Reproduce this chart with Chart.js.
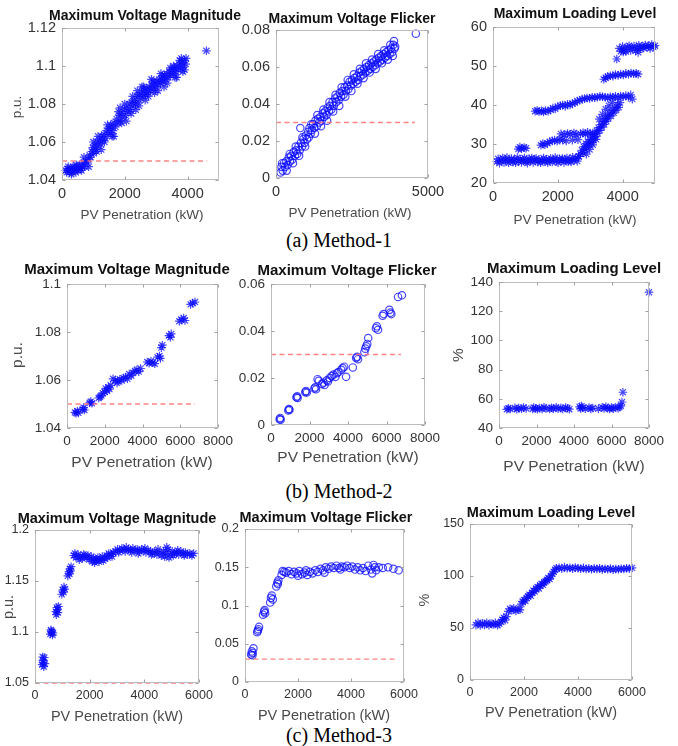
<!DOCTYPE html>
<html>
<head>
<meta charset="utf-8">
<script src="https://cdn.jsdelivr.net/npm/chart.js@4.4.1/dist/chart.umd.min.js"></script>
<style>
  html, body { margin: 0; padding: 0; background: #fff; }
  #page { position: relative; width: 678px; height: 746px; overflow: hidden; background: #fff; }
  #page canvas { position: absolute; }
  .caption {
    position: absolute; left: 0; width: 678px; text-align: center;
    font: 20px "Liberation Serif", "Times New Roman", serif; color: #000; line-height: 24px;
  }
</style>
</head>
<body>
<div id="page">
  <div class="caption" style="top:228px">(a) Method-1</div>
  <div class="caption" style="top:479px">(b) Method-2</div>
  <div class="caption" style="top:723px">(c) Method-3</div>
</div>
<script>
// ---- tick values ----
const xTicks5kA = [0, 2000, 4000];
const xTicks5kB = [0, 5000];
const xTicks8k = [0, 2000, 4000, 6000, 8000];
const xTicks6k = [0, 2000, 4000, 6000];
const m1VoltTicks = [1.04, 1.06, 1.08, 1.1, 1.12];
const m1FlickTicks = [0, 0.02, 0.04, 0.06, 0.08];
const m1LoadTicks = [20, 30, 40, 50, 60];
const m2VoltTicks = [1.04, 1.06, 1.08, 1.1];
const m2FlickTicks = [0, 0.02, 0.04, 0.06];
const m2LoadTicks = [40, 60, 80, 100, 120, 140];
const m3VoltTicks = [1.05, 1.1, 1.15, 1.2];
const m3FlickTicks = [0, 0.05, 0.1, 0.15, 0.2];
const m3LoadTicks = [0, 50, 100, 150];

// ---- limit lines (red dashed) ----
const m1VoltLimit = [[0, 1.05], [4620, 1.05]];
const m1FlickLimit = [[0, 0.03], [4570, 0.03]];
const m2VoltLimit = [[0, 1.05], [6780, 1.05]];
const m2FlickLimit = [[0, 0.03], [6750, 0.03]];
const m3VoltLimit = [[0, 1.05], [5780, 1.05]];
const m3FlickLimit = [[0, 0.03], [5770, 0.03]];

// ---- Method-1 ----
const m1Volt = [
  [120,1.045],[150,1.044],[180,1.046],[200,1.047],[230,1.044],[260,1.045],[290,1.046],[320,1.044],[350,1.047],[380,1.045],
  [410,1.046],[440,1.044],[470,1.047],[500,1.045],[530,1.046],[560,1.048],[600,1.046],[640,1.047],[680,1.049],[720,1.047],
  [760,1.05],[800,1.049],[840,1.051],[880,1.053],[910,1.052],[950,1.055],[980,1.057],[1010,1.054],[1050,1.058],[1080,1.056],
  [1120,1.06],[1150,1.058],[1190,1.061],[1230,1.059],[1260,1.063],[1300,1.061],[1340,1.064],[1380,1.062],[1420,1.066],[1460,1.064],
  [1500,1.067],[1540,1.065],[1580,1.068],[1620,1.066],[1660,1.07],[1700,1.068],[1740,1.072],[1780,1.07],[1820,1.074],[1860,1.071],
  [1900,1.075],[1940,1.073],[1980,1.077],[2020,1.074],[2060,1.078],[2100,1.076],[2140,1.08],[2180,1.077],[2220,1.081],[2260,1.079],
  [2300,1.082],[2340,1.08],[2380,1.084],[2420,1.081],[2460,1.085],[2500,1.083],[2540,1.086],[2580,1.084],[2620,1.087],[2660,1.085],
  [2700,1.088],[2740,1.086],[2780,1.089],[2820,1.087],[2860,1.09],[2900,1.088],[2940,1.091],[2980,1.089],[3020,1.092],[3060,1.09],
  [3100,1.093],[3140,1.091],[3180,1.093],[3220,1.092],[3260,1.095],[3300,1.093],[3340,1.096],[3380,1.094],[3420,1.097],[3460,1.095],
  [3500,1.098],[3540,1.096],[3580,1.099],[3620,1.097],[3660,1.1],[3700,1.098],[3740,1.101],[3780,1.099],[3820,1.102],[3860,1.1],
  [3900,1.103],[3940,1.101],[4600,1.108],
  [300,1.043],[450,1.048],[620,1.045],[1000,1.06],[1100,1.055],[1350,1.06],[1550,1.069],[1600,1.063],[1800,1.076],[1900,1.07],
  [2000,1.08],[2200,1.075],[2400,1.087],[2450,1.079],[2600,1.089],[2750,1.084],[2900,1.092],[3050,1.087],[3200,1.095],[3350,1.091],
  [3450,1.099],[3600,1.094],[3750,1.103],[3850,1.097],[3950,1.104],
  [700,1.052],[850,1.047],[1150,1.063],[1250,1.056],[1450,1.069],[1650,1.063],[1850,1.078],[2050,1.071],[2250,1.084],[2350,1.077],
  [2550,1.089],[2650,1.082],[2850,1.093],[2950,1.086],[3150,1.096],[3250,1.089],[3550,1.1],[3650,1.094],[3800,1.104],[3900,1.098]
];
const m1Flick = [
  [150,0.003],[180,0.006],[220,0.004],[260,0.008],[300,0.006],[340,0.009],[380,0.007],[420,0.011],[460,0.009],[500,0.012],
  [540,0.01],[580,0.014],[620,0.012],[660,0.015],[700,0.013],[740,0.017],[780,0.015],[800,0.027],[820,0.019],[860,0.017],[900,0.021],
  [940,0.019],[980,0.023],[1020,0.021],[1060,0.025],[1100,0.027],[1140,0.024],[1180,0.026],[1220,0.029],[1260,0.027],[1300,0.031],
  [1340,0.028],[1380,0.032],[1420,0.03],[1460,0.033],[1500,0.031],[1540,0.035],[1580,0.033],[1620,0.036],[1660,0.034],[1700,0.038],
  [1740,0.036],[1780,0.039],[1820,0.037],[1860,0.041],[1900,0.039],[1940,0.043],[1980,0.041],[2020,0.044],[2060,0.042],[2100,0.046],
  [2140,0.044],[2180,0.047],[2220,0.045],[2260,0.049],[2300,0.047],[2340,0.05],[2380,0.048],[2420,0.052],[2460,0.05],[2500,0.053],
  [2540,0.051],[2580,0.054],[2620,0.052],[2660,0.055],[2700,0.053],[2740,0.057],[2780,0.055],[2820,0.058],[2860,0.056],[2900,0.059],
  [2940,0.057],[2980,0.06],[3020,0.058],[3060,0.061],[3100,0.059],[3140,0.062],[3180,0.06],[3220,0.063],[3260,0.061],[3300,0.064],
  [3340,0.062],[3380,0.065],[3420,0.063],[3460,0.066],[3500,0.064],[3540,0.067],[3580,0.065],[3620,0.068],[3660,0.066],[3700,0.069],
  [3740,0.067],[3780,0.07],[3820,0.068],[3860,0.072],[3900,0.07],[3880,0.074],[4600,0.078],
  [200,0.008],[350,0.004],[450,0.013],[560,0.008],[650,0.017],[760,0.012],[870,0.022],[960,0.017],[1080,0.022],[1160,0.029],
  [1280,0.024],[1360,0.034],[1480,0.028],[1560,0.037],[1680,0.031],[1760,0.041],[1880,0.036],[1960,0.045],[2080,0.039],[2160,0.049],
  [2280,0.044],[2360,0.053],[2480,0.047],[2560,0.056],[2680,0.051],[2760,0.059],[2880,0.054],[2960,0.062],[3080,0.057],[3160,0.064],
  [3280,0.059],[3360,0.067],[3480,0.062],[3560,0.069],[3680,0.064],[3760,0.072],[3840,0.066],[3920,0.071]
];
const m1Load = [
  // base band
  [120,25.5],[160,26.2],[200,25.1],[250,25.8],[300,26.4],[340,25.3],[390,25.9],[430,26.5],[480,25.2],[520,25.7],
  [570,26.3],[610,25.4],[660,26],[700,25.2],[750,26.5],[790,25.6],[840,26.1],[880,25.3],[930,25.9],[970,26.4],
  [1020,25.5],[1060,25.1],[1110,26.2],[1150,25.7],[1200,26.4],[1240,25.3],[1290,25.9],[1330,26.3],[1380,25.4],[1420,26],
  [1470,25.2],[1510,25.8],[1560,26.4],[1600,25.5],[1650,26.1],[1690,25.2],[1740,25.8],[1780,26.3],[1830,25.4],[1870,25.9],
  [1920,26.5],[1960,25.6],[2010,25.2],[2050,26.2],[2100,25.7],[2140,26.3],[2190,25.3],[2230,25.9],[2280,26.4],[2320,25.5],
  [2370,26],[2410,25.4],[2460,26.6],[2500,25.8],[2550,26.3],[2600,25.6],[2640,26.8],
  // short cluster near 29
  [780,28.7],[830,29.2],[880,28.8],[960,29.1],[1020,28.9],
  // rows 30-33
  [1480,29.7],[1540,30.1],[1600,29.8],[1680,30.2],[1750,30.6],[1830,30.8],[1900,31],[1980,30.7],[2060,31.2],[2100,32.6],
  [2150,31],[2200,32.4],[2260,30.8],[2300,32.7],[2380,32.5],[2450,31],[2500,32.8],[2560,32.4],[2620,31.1],[2700,32.6],
  [2780,32.9],[2850,32.5],[2920,33],[3000,32.6],[3080,32.8],
  // row 38-42
  [1300,38.4],[1360,38.6],[1420,38.3],[1500,38.5],[1560,38.2],[1620,38.6],[1700,38.4],[1780,38.8],[1850,39.2],[1920,39],
  [2000,39.6],[2080,39.8],[2150,40],[2230,39.7],[2300,40.2],[2380,40],[2450,40.4],[2530,40.6],[2600,41],[2680,41.2],
  [2750,41.5],[2830,41.6],[2900,41.8],[2980,41.7],[3060,42],[3140,41.9],[3220,42],[3300,42.2],[3380,42.1],[3460,42],
  [3540,41.8],[3620,42.1],[3700,42],[3780,42.2],[3860,41.9],[3940,42.3],[4020,42.1],[4100,42.4],[4180,42],[4250,42.6],[4300,41.5],
  // rising cloud
  [2650,26.8],[2700,27.5],[2740,28.4],[2780,27.8],[2800,29.3],[2840,28.6],[2870,30.1],[2900,29.2],[2930,30.6],[2960,29.8],
  [3000,31.2],[3030,30.4],[3060,31.8],[3100,31],[3130,32.6],[3160,31.9],[3200,33.4],[3230,32.7],[3260,34.2],[3300,33.5],
  [3330,35],[3360,34.3],[3400,35.8],[3430,35],[3460,36.5],[3500,35.8],[3530,37.2],[3560,36.6],[3600,37.9],[3640,37.2],
  [3680,38.6],[3720,38],[3760,39.3],[3800,38.7],[3840,40],[3880,39.4],[3920,40.6],
  [2880,27.4],[2980,28.6],[3080,29.8],[3180,31.2],[3280,36.4],[3380,37.6],[3480,38.9],[3580,39.8],[3680,40.7],
  // row 47-48
  [3420,46.6],[3480,47],[3540,47.3],[3620,47.5],[3700,47.4],[3780,47.8],[3860,47.6],[3940,47.9],[4020,47.7],[4100,48.1],
  [4180,47.9],[4260,48.2],[4340,48],[4420,48.1],[4480,47.9],
  [3820,51.8],
  // top band
  [3900,54.5],[3950,53.8],[4000,55],[4050,54.2],[4100,53.7],[4150,54.8],[4200,55.2],[4250,54],[4300,54.6],[4350,55.1],
  [4400,53.9],[4450,54.7],[4500,55.3],[4550,54.4],[4600,55],[4650,54.6],[4700,55.4],[4750,54.8],[4800,55.2],[4850,54.5],
  [4900,55.5],[4950,54.9],[5000,55.2],[4020,53.6],[4480,53.5]
];

// ---- Method-2 ----
const m2Volt = [
  [420,1.0465],[480,1.0462],[550,1.047],[600,1.0463],[830,1.0478],[880,1.0485],[920,1.0475],[1200,1.0505],[1260,1.051],[1320,1.0503],
  [1680,1.0525],[1750,1.053],[1820,1.0535],[1900,1.0545],[2000,1.055],[2050,1.0565],[2120,1.0555],[2200,1.057],[2250,1.0562],[2320,1.0578],
  [2440,1.0605],[2550,1.0598],[2650,1.0588],[2700,1.0595],[2800,1.0603],[2900,1.0598],[3000,1.0608],[3100,1.0612],[3200,1.0605],[3300,1.0625],
  [3400,1.0618],[3500,1.063],[3600,1.0638],[3700,1.0642],[3800,1.0635],[3900,1.0648],[4250,1.0675],[4350,1.067],[4450,1.0678],[4550,1.0672],
  [4650,1.0668],[4800,1.0695],[4900,1.07],[4950,1.069],[5000,1.0735],[5050,1.0745],[5400,1.0785],[5480,1.0778],[5520,1.0792],[5950,1.0845],
  [6050,1.0852],[6180,1.0858],[6250,1.0848],[6550,1.0915],[6650,1.092],[6780,1.0925]
];
const m2Flick = [
  [450,0.0025],[480,0.003],[500,0.0022],[900,0.0062],[930,0.0068],[960,0.0065],[1320,0.0118],[1360,0.0122],[1380,0.0115],[1780,0.014],
  [1820,0.0145],[1860,0.0138],[2250,0.0155],[2300,0.016],[2340,0.0152],[2420,0.0195],[2480,0.0188],[2650,0.0175],[2720,0.018],[2780,0.017],
  [2900,0.019],[2960,0.0185],[3050,0.02],[3150,0.0208],[3250,0.0215],[3350,0.0205],[3420,0.022],[3500,0.0225],[3650,0.0235],[3720,0.0242],
  [3800,0.0248],[3900,0.0205],[4250,0.0245],[4420,0.0285],[4470,0.029],[4520,0.028],[4850,0.031],[4900,0.0325],[4950,0.0335],[5000,0.0345],
  [5050,0.037],[5450,0.0412],[5500,0.042],[5560,0.0405],[5800,0.0465],[5850,0.0472],[6150,0.049],[6200,0.0478],[6250,0.0472],[6600,0.0545],
  [6800,0.0552]
];
const m2Load = [
  [420,52.8],[500,53.5],[600,53],[850,53.8],[950,52.9],[1050,53.6],[1200,53.2],[1300,54],[1450,53.4],[1800,53],
  [1850,54],[1950,53.5],[2050,52.8],[2150,53.7],[2300,53.1],[2400,54.2],[2500,53.4],[2700,53],[2800,53.9],[2900,53.3],
  [3050,54.1],[3150,53.2],[3300,53.8],[3400,53],[3550,54],[3650,53.5],[3750,52.9],[4300,54.5],[4350,53.4],[4400,55],
  [4450,53.9],[4600,53.2],[4800,54],[4900,53.1],[5000,53.7],[5300,53.3],[5500,54.2],[5600,53.4],[5700,54.6],[5800,53.6],
  [5900,53],[6000,54],[6100,53.3],[6200,54.1],[6350,53.6],[6420,54.4],[6500,55.2],[6560,57.8],[6610,64.5],[8000,133]
];

// ---- Method-3 ----
const m3Volt = [
  [260,1.068],[290,1.072],[320,1.066],[340,1.075],[300,1.07],[360,1.069],[280,1.0755],
  [560,1.098],[600,1.101],[640,1.097],[620,1.1],[580,1.102],[660,1.099],
  [760,1.12],[800,1.124],[840,1.119],[820,1.122],[860,1.125],[780,1.117],
  [980,1.137],[1020,1.141],[1060,1.144],[1040,1.139],[1090,1.142],
  [1200,1.155],[1240,1.159],[1280,1.162],[1260,1.157],[1300,1.16],[1320,1.164],
  [1420,1.175],[1500,1.173],[1580,1.176],[1660,1.174],[1740,1.172],[1820,1.175],[1900,1.173],[1980,1.171],[2060,1.174],[2140,1.172],
  [2220,1.17],[2300,1.173],[2380,1.171],[2460,1.174],[2540,1.172],[2620,1.175],[2700,1.177],[2780,1.176],[2860,1.178],[2940,1.179],
  [3020,1.181],[3100,1.18],[3180,1.182],[3260,1.181],[3340,1.183],[3420,1.181],[3500,1.18],[3580,1.182],[3660,1.18],[3740,1.181],
  [3820,1.179],[3900,1.181],[3980,1.18],[4060,1.178],[4140,1.18],[4220,1.179],[4300,1.177],[4380,1.179],[4460,1.176],[4540,1.178],
  [4620,1.175],[4700,1.179],[4780,1.177],[4860,1.181],[4940,1.176],[5020,1.179],[5100,1.177],[5180,1.178],[5260,1.176],[5340,1.179],
  [5420,1.177],[5500,1.178],[5580,1.176],[5660,1.177],[5740,1.175],[5800,1.177],
  [1460,1.177],[1620,1.171],[1780,1.176],[1940,1.175],[2100,1.169],[2180,1.168],[2260,1.171],[2340,1.169],[2500,1.17],[2660,1.173],
  [2820,1.174],[3060,1.178],[3300,1.179],[3540,1.178],[3780,1.177],[4020,1.182],[4260,1.176],[4500,1.181],[4740,1.174],[4820,1.183],
  [4900,1.173],[5060,1.175],[5220,1.18],[5460,1.175]
];
const m3Flick = [
  [230,0.036],[260,0.04],[290,0.038],[320,0.044],[280,0.035],
  [460,0.065],[500,0.069],[530,0.072],[480,0.067],
  [680,0.088],[720,0.092],[760,0.09],[740,0.094],
  [950,0.104],[980,0.11],[1010,0.113],[1050,0.108],
  [1180,0.125],[1220,0.13],[1260,0.133],[1240,0.128],
  [1380,0.14],[1420,0.145],[1480,0.144],
  [1550,0.143],[1650,0.145],[1750,0.141],[1850,0.144],[1950,0.142],[2050,0.145],[2150,0.141],[2250,0.143],[2350,0.14],[2450,0.144],
  [2550,0.142],[2650,0.146],[2750,0.144],[2850,0.148],[2950,0.146],[3050,0.15],[3150,0.148],[3250,0.151],[3350,0.149],[3450,0.152],
  [3550,0.149],[3650,0.151],[3750,0.15],[3850,0.152],[3950,0.149],[4050,0.151],[4150,0.147],[4250,0.15],[4350,0.146],[4450,0.149],
  [4550,0.145],[4650,0.152],[4750,0.147],[4850,0.153],[4950,0.146],[5050,0.15],[5200,0.149],[5400,0.15],[5600,0.148],[5800,0.146],
  [2000,0.139],[2300,0.146],[3000,0.143],[3600,0.147],[4800,0.142],[4900,0.15]
];
const m3Load = [
  [220,53],[300,55],[380,52.5],[460,54.5],[540,53],[620,55],[700,52.8],[780,54.2],[860,53.3],[940,55],[1020,52.7],[1080,54],
  [1150,56],[1200,58],[1250,60],[1300,57.5],[1350,61],
  [1420,66],[1480,68.5],[1550,67],[1620,69],[1700,66.5],[1780,68],[1850,67.5],
  [1900,73],[1950,75.5],[2000,77],[2050,76],[2100,79],[2150,80.5],[2200,82],[2250,81],[2300,84],[2350,86],
  [2400,85],[2450,88],[2500,89.5],[2550,88],[2600,91],[2650,92.5],[2700,91.5],[2750,94],[2800,95],[2850,96.5],
  [2900,98],[2950,97],[3000,100],[3050,102],[3100,104],[3150,106],[3200,107.5],
  [3300,108],[3400,107],[3500,108.5],[3600,107.5],[3700,108],[3800,107],[3900,108.2],[4000,107.4],[4100,107],[4200,107.8],
  [4300,106.8],[4400,107.5],[4500,106.5],[4600,107.3],[4700,106.8],[4800,107.5],[4900,106.3],[5000,107],[5100,106.5],[5200,107.2],
  [5300,106],[5400,106.8],[5500,106.5],[5600,107],[5700,106.8],[5800,107.5],[5900,107],[6000,107.8]
];

// ---- layout of the nine panels (page pixels) ----
const FONT = '"Liberation Sans", Arial, Helvetica, sans-serif';
const tickSize = [14.5, 13.5, 12.5];
const titleSize = [14, 15, 14.5];
const labelSize = [13.5, 15.5, 14.5];
const XLABEL = 'PV Penetration (kW)';

const panels = [
  { row: 0, box: [62, 28, 219, 180], pts: m1Volt, marker: 'star', limit: m1VoltLimit,
    xMax: 5000, xTicks: xTicks5kA, yMin: 1.04, yMax: 1.12, yTicks: m1VoltTicks,
    title: ['Maximum Voltage Magnitude', 145, 16], xLab: [142, 215], yLab: ['p.u.', 17, 107] },
  { row: 0, box: [276, 30, 428, 178], pts: m1Flick, marker: 'circle', limit: m1FlickLimit,
    xMax: 5000, xTicks: xTicks5kB, yMin: 0, yMax: 0.08, yTicks: m1FlickTicks,
    title: ['Maximum Voltage Flicker', 352, 19], xLab: [350, 213] },
  { row: 0, box: [493, 27, 655, 183], pts: m1Load, marker: 'star',
    xMax: 5000, xTicks: xTicks5kA, yMin: 20, yMax: 60, yTicks: m1LoadTicks,
    title: ['Maximum Loading Level', 575, 14], xLab: [575, 220] },
  { row: 1, box: [67, 284, 218, 428], pts: m2Volt, marker: 'star', limit: m2VoltLimit,
    xMax: 8000, xTicks: xTicks8k, yMin: 1.04, yMax: 1.1, yTicks: m2VoltTicks,
    title: ['Maximum Voltage Magnitude', 127, 270], xLab: [142, 463], yLab: ['p.u.', 18, 355] },
  { row: 1, box: [271, 284, 425, 425], pts: m2Flick, marker: 'circle', limit: m2FlickLimit,
    xMax: 8000, xTicks: xTicks8k, yMin: 0, yMax: 0.06, yTicks: m2FlickTicks,
    title: ['Maximum Voltage Flicker', 347, 271], xLab: [348, 458] },
  { row: 1, box: [499, 282, 649, 428], pts: m2Load, marker: 'star',
    xMax: 8000, xTicks: xTicks8k, yMin: 40, yMax: 140, yTicks: m2LoadTicks,
    title: ['Maximum Loading Level', 574, 269], xLab: [574, 467], yLab: ['%', 459, 355] },
  { row: 2, box: [35, 530, 199, 683], pts: m3Volt, marker: 'star', limit: m3VoltLimit,
    xMax: 6000, xTicks: xTicks6k, yMin: 1.05, yMax: 1.2, yTicks: m3VoltTicks,
    title: ['Maximum Voltage Magnitude', 117, 519], xLab: [117, 717], yLab: ['p.u.', 9, 607] },
  { row: 2, box: [245, 529, 404, 682], pts: m3Flick, marker: 'circle', limit: m3FlickLimit,
    xMax: 6000, xTicks: xTicks6k, yMin: 0, yMax: 0.2, yTicks: m3FlickTicks,
    title: ['Maximum Voltage Flicker', 326, 518], xLab: [324, 716] },
  { row: 2, box: [470, 524, 632, 680], pts: m3Load, marker: 'star',
    xMax: 6000, xTicks: xTicks6k, yMin: 0, yMax: 150, yTicks: m3LoadTicks,
    title: ['Maximum Loading Level', 551, 513], xLab: [551, 713], yLab: ['%', 425, 600] }
];

const page = document.getElementById('page');
const fmt = v => String(+(+v).toFixed(4));

// MATLAB-style box, inner ticks, title and axis labels
function boxPlugin(p, ox, oy) {
  return {
    id: 'matlabBox',
    afterDraw(chart) {
      const { ctx, chartArea: a, scales } = chart;
      const L = Math.round(a.left) + 0.5, T = Math.round(a.top) + 0.5;
      const R = Math.round(a.right) - 0.5, B = Math.round(a.bottom) - 0.5;
      ctx.save();
      ctx.strokeStyle = '#bdbdbd';
      ctx.lineWidth = 1;
      ctx.strokeRect(L, T, R - L, B - T);
      ctx.strokeStyle = '#a0a0a0';
      ctx.beginPath();
      scales.x.ticks.forEach(tk => {
        const px = Math.round(scales.x.getPixelForValue(tk.value)) + 0.5;
        ctx.moveTo(px, B); ctx.lineTo(px, B - 3);
        ctx.moveTo(px, T); ctx.lineTo(px, T + 3);
      });
      scales.y.ticks.forEach(tk => {
        const py = Math.round(scales.y.getPixelForValue(tk.value)) + 0.5;
        ctx.moveTo(L, py); ctx.lineTo(L + 3, py);
        ctx.moveTo(R, py); ctx.lineTo(R - 3, py);
      });
      ctx.stroke();

      ctx.textAlign = 'center';
      ctx.textBaseline = 'middle';
      ctx.fillStyle = '#111';
      ctx.font = 'bold ' + titleSize[p.row] + 'px ' + FONT;
      ctx.fillText(p.title[0], p.title[1] - ox, p.title[2] - oy);

      ctx.fillStyle = '#4a4a4a';
      ctx.font = labelSize[p.row] + 'px ' + FONT;
      ctx.fillText(XLABEL, p.xLab[0] - ox, p.xLab[1] - oy);
      if (p.yLab) {
        ctx.translate(p.yLab[1] - ox, p.yLab[2] - oy);
        ctx.rotate(-Math.PI / 2);
        ctx.fillText(p.yLab[0], 0, 0);
      }
      ctx.restore();
    }
  };
}

function makePanel(p) {
  const [l, t, r, b] = p.box;
  const padL = 75, padT = 40, padR = 40, padB = 60;
  const w = r - l + padL + padR, h = b - t + padT + padB;
  const ox = l - padL, oy = t - padT;
  const canvas = document.createElement('canvas');
  canvas.width = w; canvas.height = h;
  canvas.style.left = ox + 'px';
  canvas.style.top = oy + 'px';
  canvas.style.width = w + 'px';
  canvas.style.height = h + 'px';
  page.appendChild(canvas);

  const datasets = [];
  if (p.limit) {
    datasets.push({
      data: p.limit.map(([x, y]) => ({ x, y })),
      showLine: true,
      borderColor: 'rgba(255, 110, 110, 0.85)',
      borderWidth: 1.3,
      borderDash: [5, 3.5],
      pointRadius: 0,
      clip: false
    });
  }
  datasets.push({
    data: p.pts.map(([x, y]) => ({ x, y })),
    pointStyle: p.marker,
    pointRadius: p.marker === 'star' ? 4.3 : 3.7,
    borderWidth: 1.2,
    borderColor: 'rgba(10, 10, 255, 0.75)',
    backgroundColor: 'rgba(0,0,0,0)',
    clip: false
  });

  const tickFont = { family: FONT, size: tickSize[p.row] };
  new Chart(canvas, {
    type: 'scatter',
    data: { datasets },
    options: {
      responsive: false,
      animation: false,
      devicePixelRatio: 1,
      layout: { padding: { left: 0, top: padT, right: padR, bottom: 0 } },
      plugins: { legend: { display: false }, tooltip: { enabled: false } },
      scales: {
        x: {
          type: 'linear', min: 0, max: p.xMax,
          grid: { display: false, drawTicks: false },
          border: { display: false },
          afterBuildTicks: s => { s.ticks = p.xTicks.map(v => ({ value: v })); },
          afterFit: s => { s.height = padB; s.paddingLeft = 0; s.paddingRight = 0; },
          ticks: { color: '#333', font: tickFont, padding: 5, maxRotation: 0, minRotation: 0, autoSkip: false, callback: fmt }
        },
        y: {
          type: 'linear', min: p.yMin, max: p.yMax,
          grid: { display: false, drawTicks: false },
          border: { display: false },
          afterBuildTicks: s => { s.ticks = p.yTicks.map(v => ({ value: v })); },
          afterFit: s => { s.width = padL; s.paddingTop = 0; s.paddingBottom = 0; },
          ticks: { color: '#333', font: tickFont, padding: 6, autoSkip: false, callback: fmt }
        }
      }
    },
    plugins: [boxPlugin(p, ox, oy)]
  });
}

panels.forEach(makePanel);
</script>
</body>
</html>
